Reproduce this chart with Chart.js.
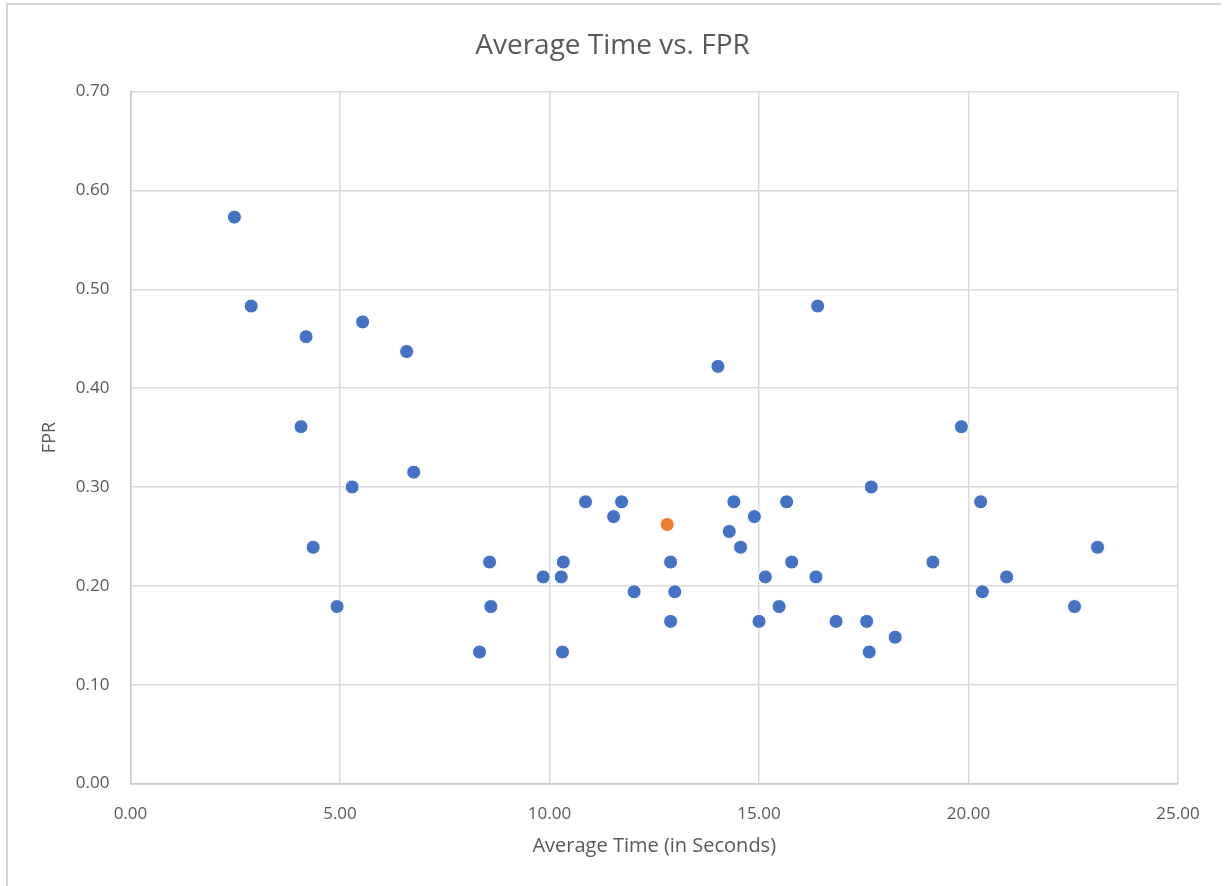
<!DOCTYPE html>
<html>
<head>
<meta charset="utf-8">
<title>Average Time vs. FPR</title>
<script src="https://cdn.jsdelivr.net/npm/chart.js@4.4.1/dist/chart.umd.min.js"></script>
<style>
  html, body { margin: 0; padding: 0; background: #fff; }
  #wrap { width: 1225px; height: 886px; }
</style>
</head>
<body>
<div id="wrap"><canvas id="myChart" width="1225" height="886"></canvas></div>
<script>
// average time per participant (seconds) and the matching false positive rate
const avgTime = [
    2.48, 2.88, 4.19, 4.07, 5.54, 6.59, 6.76, 5.29, 4.36, 4.93,
    8.33, 8.57, 8.60, 9.85, 10.28, 10.33, 10.31, 10.86, 11.53, 11.72,
    12.02, 12.89, 12.99, 12.89, 14.02, 14.29, 14.40, 14.56, 14.89, 15.15,
    15.00, 15.48, 15.66, 15.78, 16.36, 16.40, 16.84, 17.57, 17.63, 17.68,
    18.25, 19.15, 19.83, 20.29, 20.33, 20.91, 22.53, 23.08
];
const fpr = [
    0.573, 0.483, 0.452, 0.361, 0.467, 0.437, 0.315, 0.300, 0.239, 0.179,
    0.133, 0.224, 0.179, 0.209, 0.209, 0.224, 0.133, 0.285, 0.270, 0.285,
    0.194, 0.224, 0.194, 0.164, 0.422, 0.255, 0.285, 0.239, 0.270, 0.209,
    0.164, 0.179, 0.285, 0.224, 0.209, 0.483, 0.164, 0.164, 0.133, 0.300,
    0.148, 0.224, 0.361, 0.285, 0.194, 0.209, 0.179, 0.239
];

// the one highlighted point
const markTime = [12.81];
const markFpr = [0.262];

const xTicks = [0, 5, 10, 15, 20, 25];
const yTicks = [0, 0.1, 0.2, 0.3, 0.4, 0.5, 0.6, 0.7];

function toPoints(xs, ys) {
    return xs.map(function (x, i) {
        return { x: x, y: ys[i] };
    });
}

// thin frame along the top and left edges of the chart object
const frame = {
    id: 'frame',
    beforeDraw: function (chart) {
        const c = chart.ctx;
        c.save();
        c.strokeStyle = '#d4d4d4';
        c.lineWidth = 2;
        c.beginPath();
        c.moveTo(6, 4);
        c.lineTo(1221, 4);
        c.moveTo(7, 4);
        c.lineTo(7, 886);
        c.stroke();
        c.restore();
    }
};

const grey = '#595959';
const fontFamily = "'Open Sans', sans-serif";

const ctx = document.getElementById('myChart');

new Chart(ctx, {
    type: 'scatter',
    data: {
        datasets: [{
            label: 'FPR',
            data: toPoints(avgTime, fpr),
            backgroundColor: '#4472C4',
            borderColor: '#ffffff',
            borderWidth: 1,
            pointRadius: 7,
            pointHoverRadius: 7
        }, {
            label: 'Highlighted',
            data: toPoints(markTime, markFpr),
            backgroundColor: '#ED7D31',
            borderColor: '#ffffff',
            borderWidth: 1,
            pointRadius: 7,
            pointHoverRadius: 7
        }]
    },
    options: {
        responsive: false,
        animation: false,
        layout: {
            padding: { left: 47, right: 47, top: 0, bottom: 0 }
        },
        plugins: {
            legend: { display: false },
            tooltip: { enabled: false },
            title: {
                display: true,
                text: 'Average Time vs. FPR',
                color: grey,
                font: { family: fontFamily, size: 28, weight: 'normal' },
                padding: { top: 29, bottom: 29 }
            }
        },
        scales: {
            x: {
                type: 'linear',
                min: 0,
                max: 25,
                afterBuildTicks: function (scale) {
                    scale.ticks = xTicks.map(function (v) { return { value: v }; });
                },
                afterFit: function (scale) {
                    scale.height = 102.5;
                },
                ticks: {
                    color: grey,
                    padding: 20,
                    maxRotation: 0,
                    font: { family: fontFamily, size: 17 },
                    callback: function (v) { return Number(v).toFixed(2); }
                },
                grid: {
                    color: '#d9d9d9',
                    lineWidth: 1.5,
                    drawTicks: false
                },
                border: { color: '#c8c8c8', width: 1.5 },
                title: {
                    display: true,
                    text: 'Average Time (in Seconds)',
                    color: grey,
                    font: { family: fontFamily, size: 20 },
                    padding: { top: 0, bottom: 28 }
                }
            },
            y: {
                type: 'linear',
                min: 0,
                max: 0.7,
                afterBuildTicks: function (scale) {
                    scale.ticks = yTicks.map(function (v) { return { value: v }; });
                },
                afterFit: function (scale) {
                    scale.width = 83.5;
                },
                ticks: {
                    color: grey,
                    padding: 21,
                    font: { family: fontFamily, size: 17 },
                    callback: function (v) { return Number(v).toFixed(2); }
                },
                grid: {
                    color: '#d9d9d9',
                    lineWidth: 1.5,
                    drawTicks: false
                },
                border: { color: '#c8c8c8', width: 1.5 },
                title: {
                    display: true,
                    text: 'FPR',
                    color: grey,
                    font: { family: fontFamily, size: 18 },
                    padding: { top: -8, bottom: 0 }
                }
            }
        }
    },
    plugins: [frame]
});
</script>
</body>
</html>
